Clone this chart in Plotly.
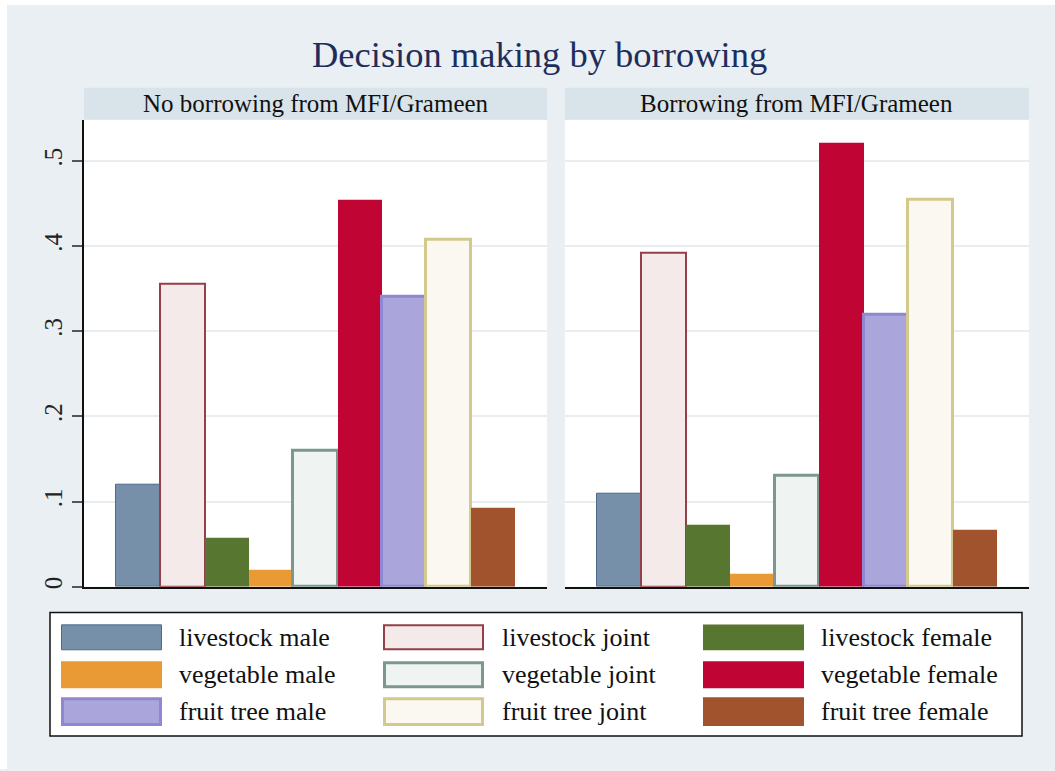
import plotly.graph_objects as go

W, H = 1055, 771

categories = ["livestock male", "livestock joint", "livestock female",
              "vegetable male", "vegetable joint", "vegetable female",
              "fruit tree male", "fruit tree joint", "fruit tree female"]
panels = ["No borrowing from MFI/Grameen", "Borrowing from MFI/Grameen"]
no_borrow = [0.120, 0.356, 0.058, 0.020, 0.160, 0.455, 0.341, 0.407, 0.093]
borrow = [0.109, 0.392, 0.073, 0.015, 0.131, 0.521, 0.320, 0.454, 0.067]
y_ticks = [0, 0.1, 0.2, 0.3, 0.4, 0.5]
y_tick_labels = ["0", ".1", ".2", ".3", ".4", ".5"]

fills = ["#7690aa", "#f4eaea", "#57762f", "#e99a35", "#eff3f2",
         "#c00434", "#aaa5da", "#faf8f1", "#a0532d"]
lines = ["#4e6a88", "#93404a", "#57762f", "#e99a35", "#7c988e",
         "#c00434", "#8f87d2", "#d2ca8c", "#a0532d"]
lwidths = [1, 2, 0, 0, 3, 0, 3, 3, 0]

def px(x):
    return x / W

def py(y):
    return 1 - y / H

SERIF = "Liberation Serif, Times New Roman, serif"

fig = go.Figure()
xs = list(range(len(categories)))
for i, vals in enumerate([no_borrow, borrow]):
    fig.add_trace(go.Bar(
        x=xs, y=vals, width=1,
        marker=dict(color=fills, line=dict(color=lines, width=lwidths)),
        hovertext=categories, name=panels[i], showlegend=False,
        xaxis="x" if i == 0 else "x2", yaxis="y" if i == 0 else "y2",
    ))

y_bottom, y_top = 588.3, 120
ydom = [py(y_bottom), py(y_top)]
yrange = [0, (y_bottom - y_top) / 854.0]
xrange = [-1.22, 8.0 + 1.22]

common_x = dict(range=xrange, showgrid=False, zeroline=False, showticklabels=False,
                ticks="", showline=True, linecolor="#111111", linewidth=1.5, fixedrange=True)
common_y = dict(range=yrange, tickvals=y_ticks, showgrid=True, gridcolor="#e8edf0",
                gridwidth=2, zeroline=False, fixedrange=True)

fig.update_layout(
    width=W, height=H,
    margin=dict(l=0, r=0, t=0, b=0),
    paper_bgcolor="#e9eff2", plot_bgcolor="#ffffff",
    bargap=0, showlegend=False,
    xaxis=dict(domain=[px(84), px(547)], anchor="y", **common_x),
    xaxis2=dict(domain=[px(565), px(1029)], anchor="y2", **common_x),
    yaxis=dict(domain=ydom, anchor="x", ticktext=y_tick_labels, showticklabels=True,
               tickangle=-90, ticks="outside", ticklen=10, tickwidth=1.5, tickcolor="#555555",
               tickfont=dict(family=SERIF, size=25, color="#222222"),
               showline=True, linecolor="#111111", linewidth=1.5, **common_y),
    yaxis2=dict(domain=ydom, anchor="x2", showticklabels=False, ticks="",
                showline=False, **common_y),
)

shapes = []
annotations = []

# thin white border at top and left of the image
shapes.append(dict(type="rect", xref="paper", yref="paper", x0=0, x1=1, y0=py(5), y1=1,
                   fillcolor="#ffffff", line=dict(width=0)))
shapes.append(dict(type="rect", xref="paper", yref="paper", x0=0, x1=px(7), y0=0, y1=1,
                   fillcolor="#ffffff", line=dict(width=0)))

# title
annotations.append(dict(x=0.5 * (px(312) + px(767)), y=py(55), xref="paper", yref="paper",
                        text="Decision making by borrowing", showarrow=False,
                        xanchor="center", yanchor="middle",
                        font=dict(family=SERIF, size=36.5, color="#1e2d5c")))

# strip headers
for (x0, x1), label in zip([(84, 547), (565, 1029)], panels):
    shapes.append(dict(type="rect", xref="paper", yref="paper", x0=px(x0), x1=px(x1),
                       y0=py(120), y1=py(88), fillcolor="#d9e4ea", line=dict(width=0),
                       layer="below"))
    annotations.append(dict(x=(px(x0) + px(x1)) / 2, y=py(104), xref="paper", yref="paper",
                            text=label, showarrow=False, xanchor="center", yanchor="middle",
                            font=dict(family=SERIF, size=25, color="#111111")))

# legend box
shapes.append(dict(type="rect", xref="paper", yref="paper", x0=px(50), x1=px(1022),
                   y0=py(738), y1=py(614), fillcolor="#ffffff",
                   line=dict(color="#111111", width=1.5)))
col_key_x = [(61, 162), (383, 484), (703, 804)]
col_text_x = [177, 500, 819]
row_y = [(626, 652), (663, 690), (699, 728)]
for idx, name in enumerate(categories):
    col = idx % 3
    row = idx // 3
    kx0, kx1 = col_key_x[col]
    ky0, ky1 = row_y[row]
    lw = lwidths[idx]
    inset = lw / 2.0
    shapes.append(dict(type="rect", xref="paper", yref="paper",
                       x0=px(kx0 + inset), x1=px(kx1 - inset),
                       y0=py(ky1 - inset), y1=py(ky0 + inset),
                       fillcolor=fills[idx],
                       line=dict(color=lines[idx], width=lw if lw > 0 else 0)))
    annotations.append(dict(x=px(col_text_x[col]), y=py((ky0 + ky1) / 2), xref="paper",
                            yref="paper", text=name, showarrow=False,
                            xanchor="left", yanchor="middle",
                            font=dict(family=SERIF, size=26, color="#111111")))

fig.update_layout(shapes=shapes, annotations=annotations)
fig.write_html("out.html",
               config={"displayModeBar": False},
               post_script=("document.body.style.margin='0';"
                            "document.body.style.padding='0';"
                            "document.body.style.overflow='hidden';"
                            "document.documentElement.style.overflow='hidden';"))
